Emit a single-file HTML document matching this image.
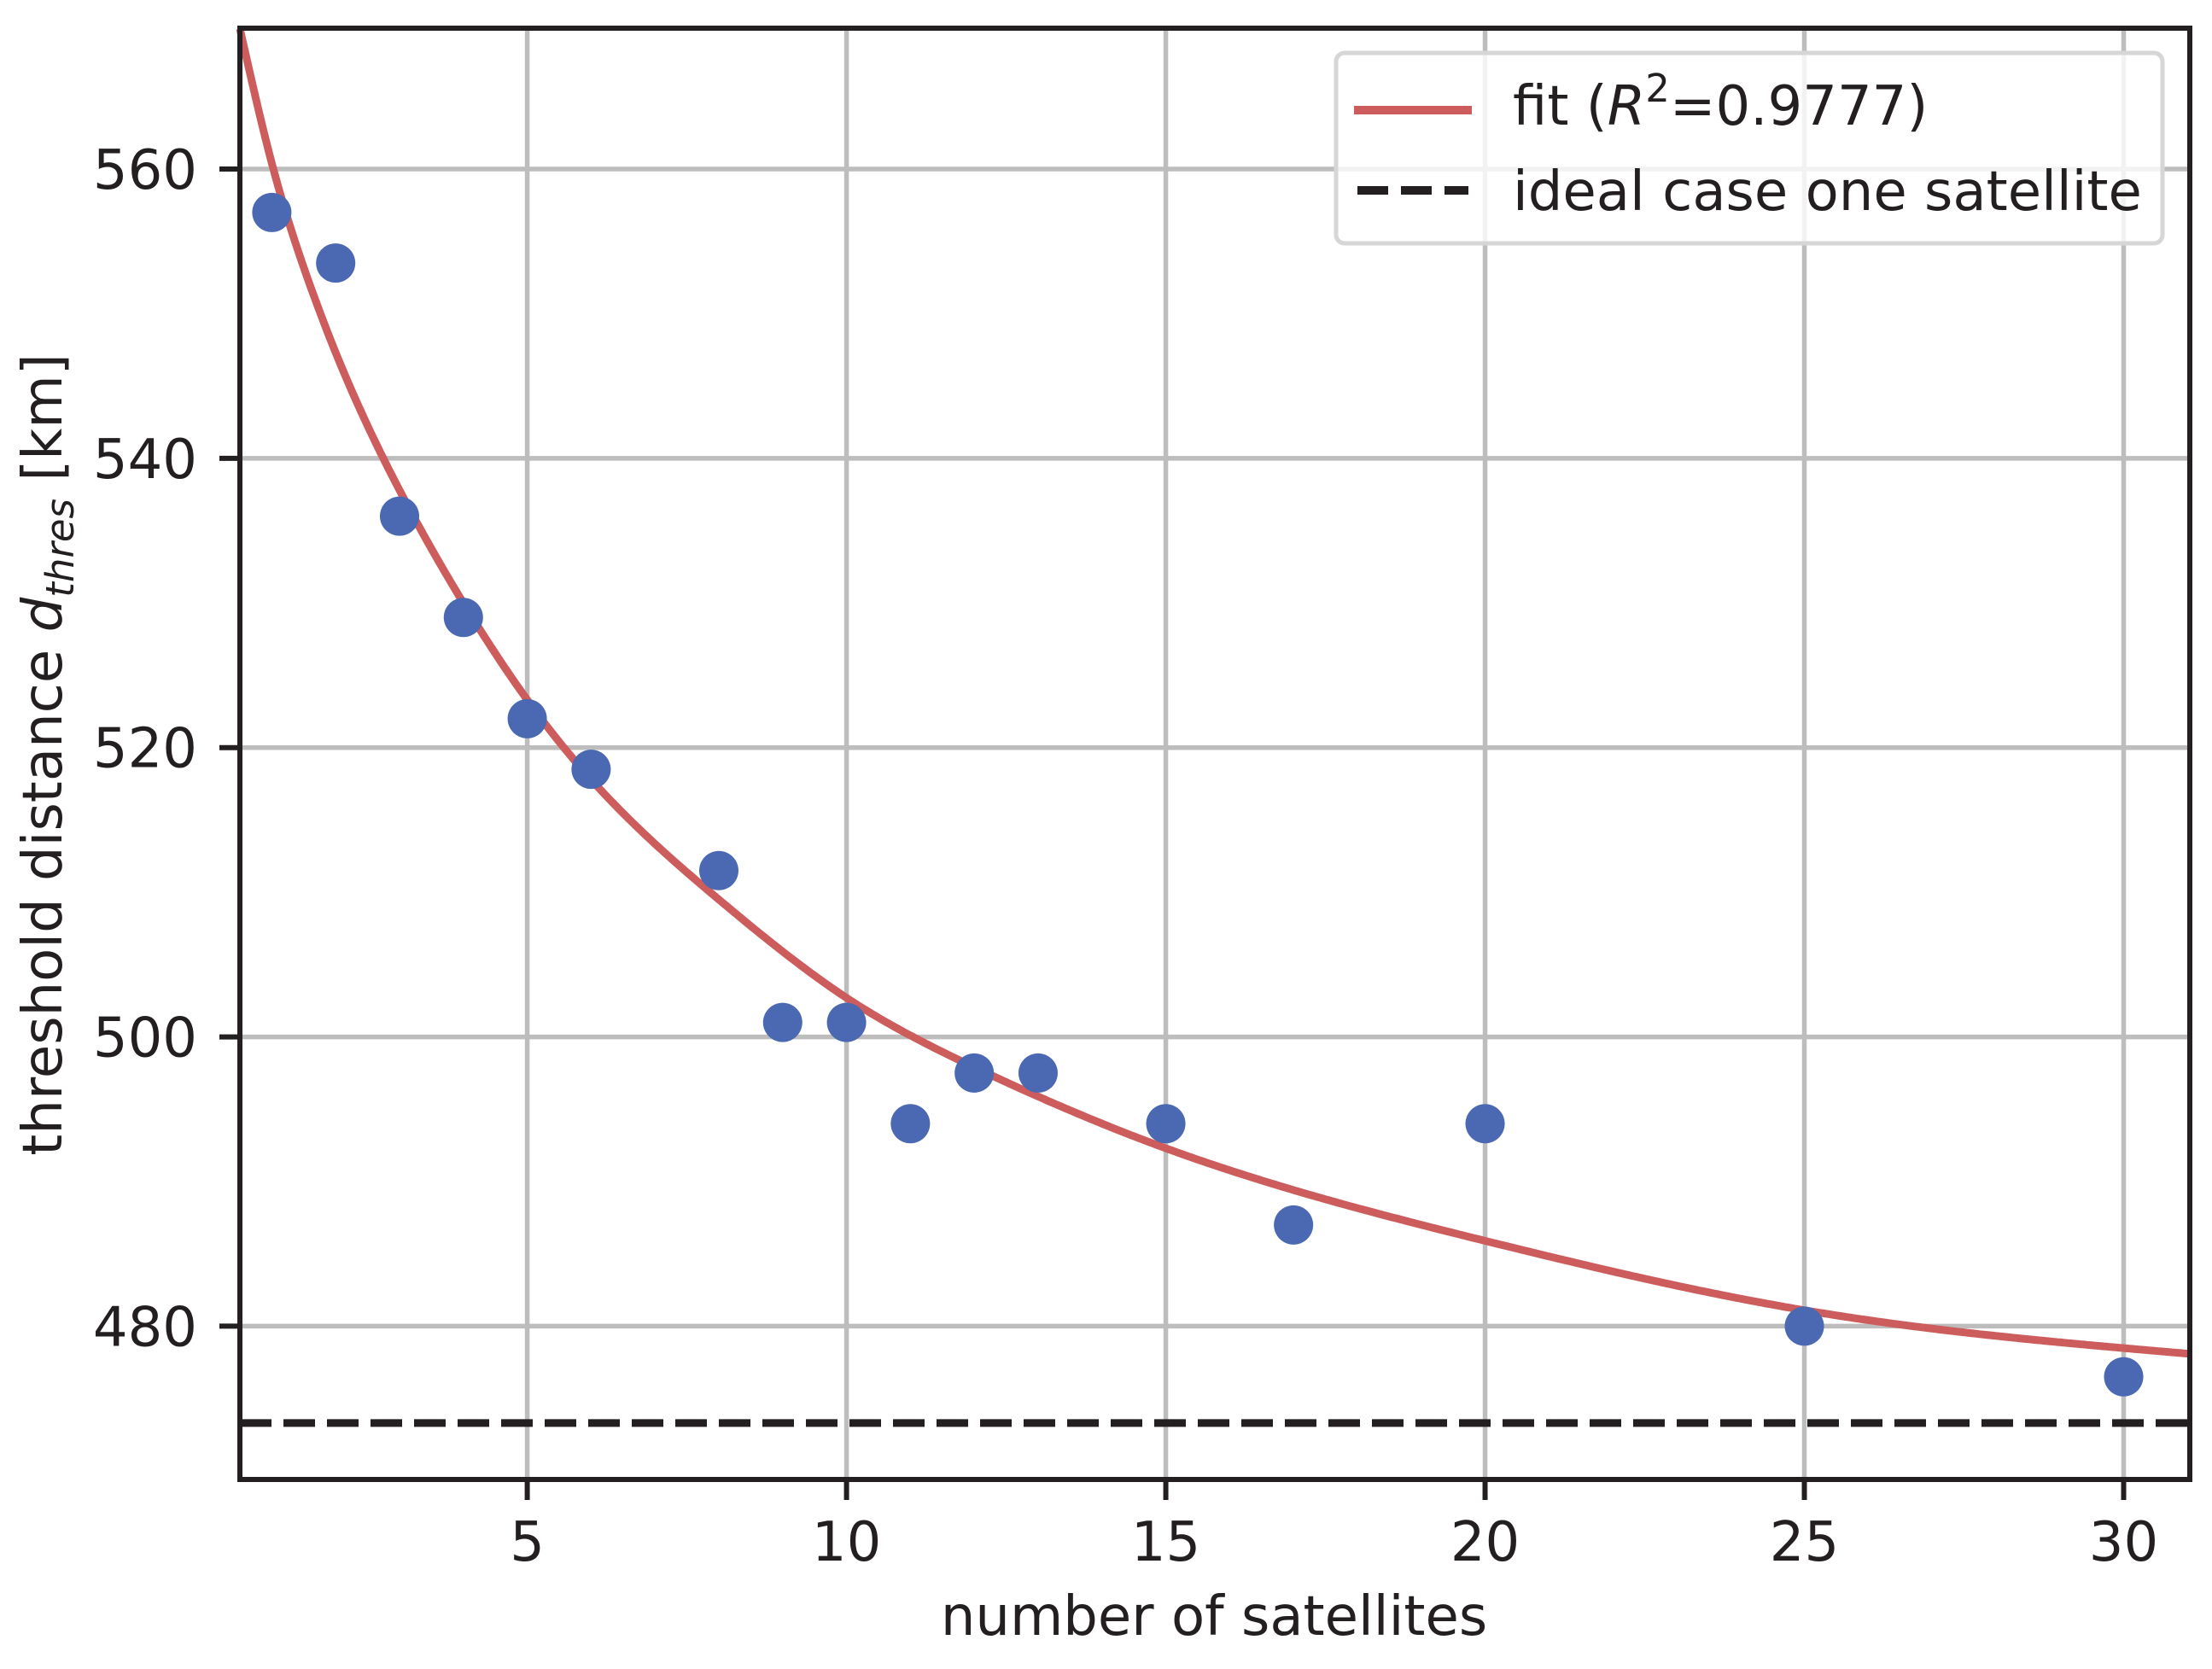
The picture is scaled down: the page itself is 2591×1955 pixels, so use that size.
<!DOCTYPE html>
<html><head><meta charset="utf-8"><style>
html,body{margin:0;padding:0;background:#fff;}
svg{display:block;font-family:"DejaVu Sans","Liberation Sans",sans-serif;}
</style></head><body>
<svg id="chart" width="2591" height="1955" viewBox="0 0 2591 1955" xmlns="http://www.w3.org/2000/svg">
<rect x="0" y="0" width="2591" height="1955" fill="#fff"/>
<g id="grid"></g>
<g id="ideal"></g>
<g id="fit"></g>
<g id="pts"></g>
<rect x="281" y="33" width="2284" height="1700" fill="none" stroke="#231f20" stroke-width="6"/>
<g id="ticks"></g>
<text x="1422" y="1915" font-size="64" text-anchor="middle" fill="#231f20">number of satellites</text>
<text transform="translate(72,884) rotate(-90)" font-size="64" text-anchor="middle" fill="#231f20">threshold distance <tspan font-style="italic">d</tspan><tspan font-style="italic" font-size="45" dy="14">thres</tspan><tspan dy="-14"> [km]</tspan></text>
<g>
<rect x="1565" y="62" width="968" height="223" rx="10" fill="#fff" fill-opacity="0.8" stroke="#d6d6d6" stroke-width="5"/>
<line x1="1586" y1="129" x2="1724" y2="129" stroke="#cd5c5c" stroke-width="10"/>
<text x="1772" y="146" font-size="64" fill="#231f20">fit (<tspan font-style="italic">R</tspan><tspan font-size="45" dy="-27">2</tspan><tspan dy="27">=0.9777)</tspan></text>
<line x1="1590" y1="223" x2="1720" y2="223" stroke="#231f20" stroke-width="10" stroke-dasharray="36,15"/>
<text x="1772" y="246" font-size="64" fill="#231f20">ideal case one satellite</text>
</g>
</svg>
<script>
const xTicks = [5, 10, 15, 20, 25, 30];
const yTicks = [480, 500, 520, 540, 560];
const satellites = [1, 2, 3, 4, 5, 6, 8, 9, 10, 11, 12, 13, 15, 17, 20, 25, 30];
const thresholds = [557, 553.5, 536, 529, 522, 518.5, 511.5, 501, 501, 494, 497.5, 497.5, 494, 487, 494, 480, 476.5];
const fitX = [0.5, 1, 1.5, 2, 3, 4, 5, 6, 8, 10, 12, 15, 20, 25, 31];
const fitY = [569.7, 560.4, 553.2, 547.3, 537.8, 530.0, 523.3, 517.8, 509.5, 502.7, 497.9, 492.3, 485.9, 481.1, 478.1];
const idealValue = 473.3;

const X0 = 281, X1 = 2565, XMIN = 0.5, XMAX = 31.036;
const YTOP = 33, YBOT = 1733, YMAX = 569.74, YMIN = 469.4;
function sx(v){ return X0 + (v - XMIN) / (XMAX - XMIN) * (X1 - X0); }
function sy(v){ return YTOP + (YMAX - v) / (YMAX - YMIN) * (YBOT - YTOP); }
const NS = "http://www.w3.org/2000/svg";
function mk(tag, attrs, parent){
  const e = document.createElementNS(NS, tag);
  for (const k in attrs) e.setAttribute(k, attrs[k]);
  parent.appendChild(e); return e;
}
const grid = document.getElementById('grid');
const ticks = document.getElementById('ticks');
xTicks.forEach(t => {
  const x = sx(t);
  const g = mk('line', {x1:x, y1:YTOP, x2:x, y2:YBOT, stroke:'#bdbdbd', 'stroke-width':5.5}, grid);
  
  
  const tk = mk('line', {x1:x, y1:YBOT, x2:x, y2:YBOT+24, stroke:'#231f20', 'stroke-width':6}, ticks);
  
  
  const lb = mk('text', {x:x, y:1828, 'font-size':64, 'text-anchor':'middle', fill:'#231f20'}, ticks);
  lb.textContent = t;
  
  
});
yTicks.forEach(t => {
  const y = sy(t);
  const g = mk('line', {x1:X0, y1:y, x2:X1, y2:y, stroke:'#bdbdbd', 'stroke-width':5.5}, grid);
  
  
  const tk = mk('line', {x1:X0-24, y1:y, x2:X0, y2:y, stroke:'#231f20', 'stroke-width':6}, ticks);
  
  
  const lb = mk('text', {x:231, y:y+23, 'font-size':64, 'text-anchor':'end', fill:'#231f20'}, ticks);
  lb.textContent = t;
  
  
});
const il = mk('line', {x1:X0, y1:sy(idealValue), x2:X1, y2:sy(idealValue), stroke:'#231f20', 'stroke-width':9, 'stroke-dasharray':'37,14'}, document.getElementById('ideal'));



function spline(xs, ys){
  const n = xs.length, h = [], a = [], l = [1], mu = [0], z = [0], c = new Array(n).fill(0), b = [], d = [];
  for (let i = 0; i < n-1; i++) h.push(xs[i+1]-xs[i]);
  for (let i = 1; i < n-1; i++) a[i] = 3/h[i]*(ys[i+1]-ys[i]) - 3/h[i-1]*(ys[i]-ys[i-1]);
  for (let i = 1; i < n-1; i++){
    l[i] = 2*(xs[i+1]-xs[i-1]) - h[i-1]*mu[i-1];
    mu[i] = h[i]/l[i];
    z[i] = (a[i]-h[i-1]*z[i-1])/l[i];
  }
  for (let j = n-2; j >= 0; j--){
    c[j] = (j > 0 ? z[j] - mu[j]*c[j+1] : 0);
    b[j] = (ys[j+1]-ys[j])/h[j] - h[j]*(c[j+1]+2*c[j])/3;
    d[j] = (c[j+1]-c[j])/(3*h[j]);
  }
  return function(x){
    let i = 0; while (i < n-2 && x > xs[i+1]) i++;
    const t = x - xs[i];
    return ys[i] + b[i]*t + c[i]*t*t + d[i]*t*t*t;
  };
}
const f = spline(fitX, fitY);
let d = '';
const N = 600;
for (let k = 0; k <= N; k++){
  const xv = fitX[0] + (fitX[fitX.length-1]-fitX[0]) * k / N;
  d += (k ? ' L' : 'M') + sx(xv).toFixed(1) + ',' + sy(f(xv)).toFixed(1);
}
const fp = mk('path', {d:d, fill:'none', stroke:'#cd5c5c', 'stroke-width':9, 'stroke-linejoin':'round'}, document.getElementById('fit'));


const pts = document.getElementById('pts');
satellites.forEach((s,i) => {
  const c = mk('circle', {cx:sx(s), cy:sy(thresholds[i]), r:23, fill:'#4a69b2'}, pts);
  
  
});
</script>
</body></html>
